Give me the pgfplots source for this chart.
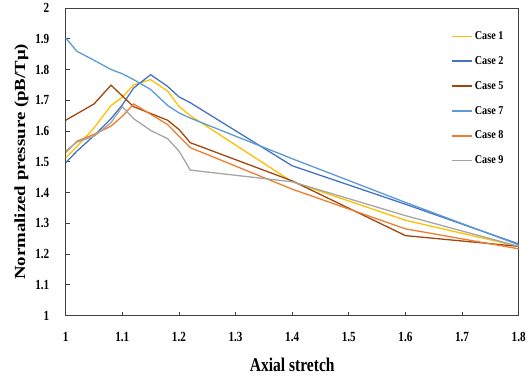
\documentclass[border=0pt]{standalone}
\usepackage{pgfplots}
\pgfplotsset{compat=1.18}
\usepackage{fontspec}
\setmainfont{Liberation Serif}
\newfontfamily\narrowfont{Liberation Serif}[FakeStretch=0.8]
\newfontfamily\legfont{Liberation Serif}[FakeStretch=0.85]
\newfontfamily\widefont{Liberation Serif}[FakeStretch=1.22]
\definecolor{cA}{HTML}{FFC000}
\definecolor{cB}{HTML}{4472C4}
\definecolor{cC}{HTML}{9E480E}
\definecolor{cD}{HTML}{5B9BD5}
\definecolor{cE}{HTML}{ED7D31}
\definecolor{cF}{HTML}{A5A5A5}
\begin{document}
\begin{tikzpicture}
\begin{axis}[
  scale only axis, width=455pt, height=309pt,
  xmin=1, xmax=1.8, ymin=1, ymax=2,
  xtick={1,1.1,1.2,1.3,1.4,1.5,1.6,1.7,1.8},
  ytick={1,1.1,1.2,1.3,1.4,1.5,1.6,1.7,1.8,1.9,2},
  tick align=inside, xtick pos=left, ytick pos=left,
  major tick length=4pt,
  axis line style={draw=black!75, line width=0.9pt},
  tick style={draw=black!75, line width=0.8pt},
  /pgf/number format/assume math mode=true,
  ticklabel style={font=\narrowfont\bfseries\fontsize{14}{14}\selectfont},
  xticklabel style={yshift=-13pt},
  yticklabel style={xshift=-13pt},
  xlabel={Axial stretch},
  ylabel={Normalized pressure (pB/Tμ)},
  xlabel style={font=\narrowfont\bfseries\fontsize{19.5}{19.5}\selectfont, yshift=-10pt},
  ylabel style={font=\widefont\bfseries\fontsize{15.5}{15.5}\selectfont, yshift=0pt},
  legend style={at={(rel axis cs:0.851,0.93)}, anchor=north west, draw=none, fill=none,
    font=\legfont\bfseries\fontsize{12}{12}\selectfont, row sep=11.5pt, inner sep=0pt,
    /tikz/every even column/.append style={column sep=0pt}},
  legend cell align=left,
  legend image code/.code={\draw[line width=1.6pt, #1] (0pt,0pt) -- (20pt,0pt);},
  every axis plot/.append style={line width=1.3pt},
]
\addplot[color=cA] coordinates {(1,1.513) (1.02,1.55) (1.05,1.61) (1.08,1.683) (1.1,1.71) (1.12,1.75) (1.15,1.767) (1.18,1.73) (1.2,1.68) (1.22,1.65) (1.4,1.435) (1.6,1.31) (1.8,1.225)};
\addlegendentry{Case 1}
\addplot[color=cB] coordinates {(1,1.497) (1.02,1.535) (1.05,1.585) (1.08,1.64) (1.1,1.685) (1.12,1.74) (1.15,1.783) (1.18,1.745) (1.2,1.711) (1.22,1.692) (1.4,1.487) (1.6,1.362) (1.8,1.233)};
\addlegendentry{Case 2}
\addplot[color=cC] coordinates {(1,1.635) (1.05,1.688) (1.08,1.749) (1.12,1.679) (1.18,1.635) (1.2,1.605) (1.22,1.562) (1.4,1.438) (1.6,1.26) (1.8,1.225)};
\addlegendentry{Case 5}
\addplot[color=cD] coordinates {(1,1.902) (1.02,1.859) (1.05,1.83) (1.08,1.80) (1.1,1.786) (1.12,1.767) (1.15,1.735) (1.18,1.683) (1.2,1.659) (1.22,1.642) (1.4,1.51) (1.6,1.368) (1.8,1.23)};
\addlegendentry{Case 7}
\addplot[color=cE] coordinates {(1,1.53) (1.02,1.567) (1.05,1.589) (1.08,1.616) (1.1,1.648) (1.12,1.688) (1.18,1.621) (1.2,1.583) (1.22,1.546) (1.4,1.411) (1.6,1.282) (1.8,1.217)};
\addlegendentry{Case 8}
\addplot[color=cF] coordinates {(1,1.535) (1.02,1.564) (1.05,1.583) (1.08,1.627) (1.1,1.679) (1.12,1.64) (1.15,1.602) (1.18,1.575) (1.2,1.535) (1.22,1.473) (1.4,1.435) (1.6,1.325) (1.8,1.225)};
\addlegendentry{Case 9}
\coordinate (BL) at (rel axis cs:0,0);
\coordinate (TR) at (rel axis cs:1,1);
\end{axis}
\path ([shift={(-66pt,-62pt)}]BL) rectangle ([shift={(8pt,8pt)}]TR);
\end{tikzpicture}
\end{document}
